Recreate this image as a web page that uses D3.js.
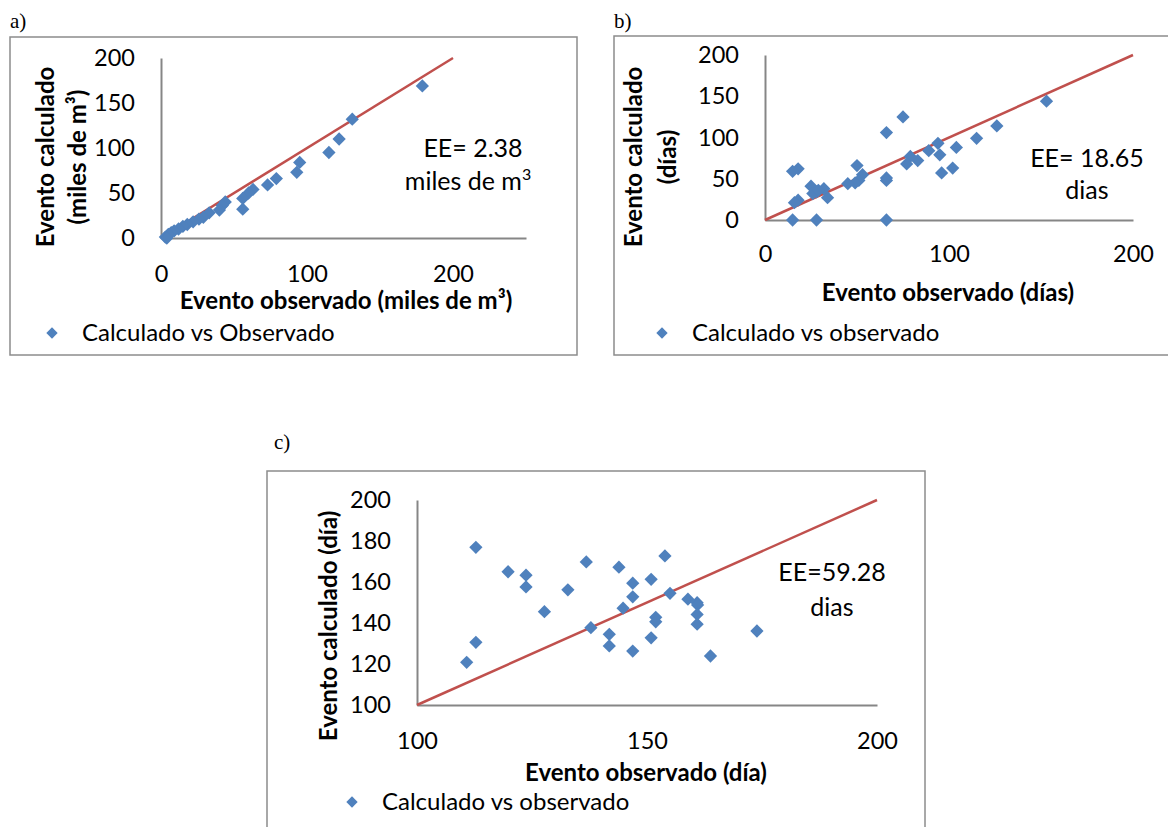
<!DOCTYPE html>
<html lang="es">
<head>
<meta charset="UTF-8">
<title>Evento calculado vs observado</title>
<script src="https://d3js.org/d3.v7.min.js"></script>
<style>
  body { margin: 0; background: #fff; }
  svg { font-family: Lato, "Open Sans", sans-serif; }
  .frame { fill: none; stroke: #8c8c8c; stroke-width: 1.5; }
  .axis path { stroke: #868686; stroke-width: 2; }
  .axis text { font-size: 23.5px; fill: #000; }
  .title { font-size: 24px; font-weight: bold; fill: #000; }
  .note { font-size: 25px; fill: #000; text-anchor: middle; }
  .legend { font-size: 24px; fill: #000; }
  .tag { font-family: "Liberation Serif", serif; font-size: 21px; fill: #000; }
  .fit { stroke: #c0504d; stroke-width: 2.5; }
  .pt { fill: #4f81bd; }
</style>
</head>
<body>
<svg id="chart" width="1168" height="827"></svg>
<script>
// panel a: volumen (miles de m3)
const aObs  = [179, 131, 122, 115, 95, 93, 79, 73, 63, 60, 56, 56, 44, 42, 40, 33, 29, 26, 22, 18, 15, 12, 9, 7, 5, 3, 4];
const aCalc = [169, 132, 110, 95, 84, 73, 66, 59, 54, 50, 44, 32, 40, 36, 31, 28, 23, 21, 18, 15, 13, 10, 8, 6, 4, 1, 0];
const aXTicks = [0, 100, 200];
const aYTicks = [0, 50, 100, 150, 200];

// panel b: duracion (dias)
const bObs  = [153, 126, 115, 104, 102, 96, 94, 95, 89, 83, 79, 77, 75, 66, 66, 66, 66, 50, 53, 51, 49, 45, 34, 32, 28, 25, 26, 29, 18, 15, 18, 16, 15, 28];
const bCalc = [144, 114, 99, 88, 63, 57, 93, 79, 84, 72, 77, 68, 125, 106, 51, 48, 0, 66, 55, 48, 45, 44, 27, 38, 34, 41, 32, 36, 62, 59, 24, 21, 0, 0];
const bXTicks = [0, 100, 200];
const bYTicks = [0, 50, 100, 150, 200];

// panel c: fecha (dia)
const cObs  = [112.8, 119.8, 123.7, 123.7, 127.7, 132.8, 136.8, 137.8, 141.8, 141.8, 143.9, 144.8, 146.9, 146.9, 146.9, 150.9, 150.9, 151.9, 151.9, 153.9, 155, 158.9, 160.9, 161, 160.9, 160.9, 163.8, 112.8, 110.8, 173.9];
const cCalc = [176.9, 165, 163.3, 157.6, 145.5, 156.2, 169.8, 137.7, 134.5, 128.8, 167.2, 147.2, 159.4, 152.8, 126.3, 161.3, 132.8, 142.8, 140.6, 172.7, 154.5, 151.6, 149.9, 148.8, 144.2, 139.4, 123.9, 130.6, 120.8, 136.1];
const cXTicks = [100, 150, 200];
const cYTicks = [100, 120, 140, 160, 180, 200];

const svg = d3.select("#chart");
const diamond = d3.symbol(d3.symbolSquare, 88);

function panel(o) {
  const g = svg.append("g");
  g.append("rect").attr("class", "frame")
    .attr("x", o.box[0]).attr("y", o.box[1]).attr("width", o.box[2]).attr("height", o.box[3]);
  g.append("text").attr("class", "tag").attr("x", o.tag[0]).attr("y", o.tag[1]).text(o.tag[2]);

  const x = d3.scaleLinear().domain(o.xDom).range(o.xRange);
  const y = d3.scaleLinear().domain(o.yDom).range(o.yRange);

  g.append("g").attr("class", "axis")
    .attr("transform", `translate(0,${o.yRange[0]})`)
    .call(d3.axisBottom(x).tickValues(o.xTicks).tickSize(0).tickPadding(o.xPad));
  g.append("g").attr("class", "axis")
    .attr("transform", `translate(${o.xRange[0]},0)`)
    .call(d3.axisLeft(y).tickValues(o.yTicks).tickSize(0).tickPadding(26));
  g.selectAll(".axis").attr("font-size", null).attr("font-family", null);

  // linea 1:1
  g.append("line").attr("class", "fit")
    .attr("x1", x(o.yDom[0])).attr("y1", y(o.yDom[0]))
    .attr("x2", x(o.yDom[1])).attr("y2", y(o.yDom[1]));

  g.selectAll(".pt").data(o.obs.map((v, i) => [v, o.calc[i]]))
    .join("path").attr("class", "pt")
    .attr("d", diamond)
    .attr("transform", d => `translate(${x(d[0])},${y(d[1])}) rotate(45)`);

  // titulos de ejes
  o.yTitle.forEach(t => {
    g.append("text").attr("class", "title").attr("text-anchor", "middle")
      .attr("transform", `translate(${t[0]},${t[1]}) rotate(-90)`)
      .attr("dy", "0.35em").text(t[2]);
  });
  g.append("text").attr("class", "title").attr("text-anchor", "middle")
    .attr("x", o.xTitle[0]).attr("y", o.xTitle[1]).attr("dy", "0.35em").text(o.xTitle[2]);

  // nota EE
  o.note.forEach(t => {
    const tx = g.append("text").attr("class", "note").attr("x", t[0]).attr("y", t[1]).attr("dy", "0.35em");
    tx.append("tspan").text(t[2]);
    if (t[3]) tx.append("tspan").attr("font-size", 16).attr("dy", -10).text(t[3]);
  });

  // leyenda
  g.append("path").attr("class", "pt").attr("d", d3.symbol(d3.symbolSquare, 64))
    .attr("transform", `translate(${o.legend[0]},${o.legend[1]}) rotate(45)`);
  g.append("text").attr("class", "legend").attr("x", o.legend[0] + 30).attr("y", o.legend[1])
    .attr("dy", "0.35em").text(o.legend[2]);
}

panel({
  box: [10, 37, 567, 318], tag: [10, 28, "a)"],
  xDom: [0, 250], xRange: [161, 526], yDom: [0, 200], yRange: [238, 58],
  xTicks: aXTicks, yTicks: aYTicks, xPad: 27,
  obs: aObs, calc: aCalc,
  yTitle: [[46, 157, "Evento calculado"], [78, 157, "(miles de m³)"]],
  xTitle: [346, 301, "Evento observado (miles de m³)"],
  note: [[473, 148, "EE= 2.38"], [468, 181, "miles de m", "3"]],
  legend: [52, 333, "Calculado vs Observado"]
});

panel({
  box: [614, 36, 570, 319], tag: [614, 28, "b)"],
  xDom: [0, 200], xRange: [765, 1133], yDom: [0, 200], yRange: [220, 55],
  xTicks: bXTicks, yTicks: bYTicks, xPad: 25,
  obs: bObs, calc: bCalc,
  yTitle: [[634, 157, "Evento calculado"], [668, 157, "(días)"]],
  xTitle: [948, 293, "Evento observado (días)"],
  note: [[1087, 158, "EE= 18.65"], [1087, 190, "dias"]],
  legend: [662, 333, "Calculado vs observado"]
});

panel({
  box: [267, 471, 658, 370], tag: [274, 449, "c)"],
  xDom: [100, 200], xRange: [417, 877], yDom: [100, 200], yRange: [705, 500],
  xTicks: cXTicks, yTicks: cYTicks, xPad: 27,
  obs: cObs, calc: cCalc,
  yTitle: [[329, 626, "Evento calculado (día)"]],
  xTitle: [646, 773, "Evento observado (día)"],
  note: [[832, 572, "EE=59.28"], [832, 607, "dias"]],
  legend: [352, 802, "Calculado vs observado"]
});
</script>
</body>
</html>
